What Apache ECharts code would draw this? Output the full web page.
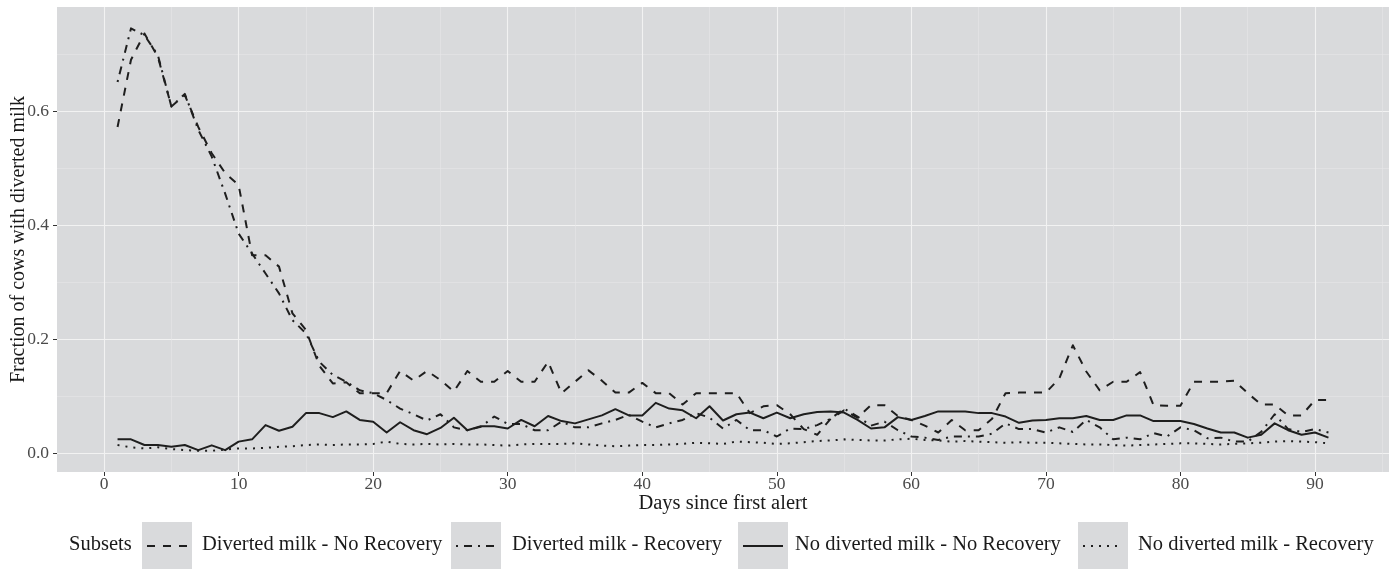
<!DOCTYPE html>
<html><head><meta charset="utf-8">
<script src="https://cdn.jsdelivr.net/npm/echarts@6/dist/echarts.min.js"></script>
<style>html,body{margin:0;padding:0;background:#fff}#c{width:1392px;height:569px}</style>
</head><body><div id="c"></div>
<script>
const days = [1,2,3,4,5,6,7,8,9,10,11,12,13,14,15,16,17,18,19,20,21,22,23,24,25,26,27,28,29,30,31,32,33,34,35,36,37,38,39,40,41,42,43,44,45,46,47,48,49,50,51,52,53,54,55,56,57,58,59,60,61,62,63,64,65,66,67,68,69,70,71,72,73,74,75,76,77,78,79,80,81,82,83,84,85,86,87,88,89,90,91];

const divertedNoRecovery = [0.572,0.690,0.736,0.695,0.608,0.628,0.572,0.526,0.491,0.470,0.347,0.347,0.327,0.245,0.216,0.153,0.122,0.124,0.105,0.105,0.105,0.144,0.127,0.144,0.128,0.108,0.144,0.125,0.125,0.144,0.125,0.125,0.160,0.105,0.125,0.145,0.127,0.106,0.106,0.123,0.105,0.105,0.085,0.105,0.105,0.105,0.105,0.070,0.082,0.084,0.068,0.042,0.032,0.060,0.075,0.062,0.084,0.084,0.065,0.058,0.048,0.036,0.058,0.040,0.040,0.060,0.105,0.106,0.106,0.106,0.131,0.189,0.143,0.110,0.125,0.125,0.142,0.084,0.083,0.083,0.125,0.125,0.125,0.127,0.105,0.085,0.085,0.066,0.066,0.093,0.093];

const divertedRecovery = [0.651,0.745,0.733,0.698,0.608,0.630,0.567,0.520,0.455,0.385,0.350,0.315,0.280,0.233,0.210,0.160,0.137,0.125,0.110,0.105,0.093,0.078,0.068,0.057,0.068,0.045,0.040,0.046,0.064,0.051,0.051,0.040,0.040,0.055,0.045,0.045,0.052,0.058,0.067,0.055,0.045,0.052,0.058,0.070,0.062,0.043,0.058,0.040,0.040,0.029,0.043,0.042,0.049,0.060,0.078,0.064,0.048,0.055,0.040,0.029,0.027,0.023,0.029,0.029,0.029,0.034,0.052,0.042,0.042,0.036,0.045,0.037,0.058,0.045,0.024,0.027,0.024,0.035,0.029,0.045,0.040,0.026,0.027,0.020,0.020,0.037,0.068,0.042,0.037,0.042,0.036];

const noDivertedNoRecovery = [0.024,0.024,0.014,0.014,0.011,0.014,0.005,0.0135,0.005,0.020,0.024,0.049,0.039,0.046,0.070,0.070,0.063,0.073,0.058,0.055,0.036,0.054,0.040,0.033,0.044,0.062,0.040,0.047,0.047,0.043,0.058,0.047,0.065,0.056,0.052,0.059,0.066,0.077,0.066,0.066,0.088,0.078,0.075,0.061,0.082,0.057,0.068,0.071,0.061,0.071,0.061,0.068,0.072,0.073,0.071,0.058,0.043,0.045,0.063,0.058,0.065,0.073,0.073,0.073,0.070,0.070,0.064,0.053,0.057,0.058,0.061,0.061,0.065,0.058,0.058,0.066,0.066,0.056,0.056,0.056,0.051,0.043,0.036,0.036,0.027,0.032,0.052,0.040,0.032,0.036,0.027];

const noDivertedRecovery = [0.014,0.010,0.008,0.010,0.007,0.005,0.004,0.004,0.006,0.008,0.008,0.009,0.011,0.012,0.014,0.015,0.014,0.015,0.015,0.016,0.020,0.016,0.015,0.016,0.015,0.016,0.015,0.015,0.014,0.013,0.015,0.016,0.016,0.016,0.017,0.015,0.013,0.012,0.013,0.014,0.014,0.015,0.016,0.018,0.017,0.016,0.020,0.019,0.018,0.016,0.017,0.019,0.021,0.022,0.024,0.023,0.022,0.022,0.024,0.025,0.023,0.022,0.020,0.021,0.020,0.019,0.018,0.019,0.018,0.018,0.017,0.016,0.015,0.015,0.014,0.013,0.014,0.015,0.016,0.017,0.017,0.016,0.015,0.016,0.017,0.018,0.020,0.021,0.020,0.019,0.017];

const seriesNames = ['Diverted milk - No Recovery','Diverted milk - Recovery','No diverted milk - No Recovery','No diverted milk - Recovery'];
const xTicks = [0,10,20,30,40,50,60,70,80,90];
const xMinorTicks = [5,15,25,35,45,55,65,75,85,95];
const yTicks = [0,0.2,0.4,0.6];
const yMinorTicks = [0.1,0.3,0.5,0.7];
const xTitle = 'Days since first alert';
const yTitle = 'Fraction of cows with diverted milk';
const legendTitle = 'Subsets';

const FONT = "'Liberation Serif','Times New Roman','DejaVu Serif',serif";
const LINE = '#1e1e1e';
const dashes = [[8,8],[2,6,8,6],null,[2,6]];
const allValues = [divertedNoRecovery, divertedRecovery, noDivertedNoRecovery, noDivertedRecovery];

const chart = echarts.init(document.getElementById('c'), null, {renderer:'canvas'});

const series = allValues.map((vals, i) => ({
  name: seriesNames[i],
  type: 'line',
  xAxisIndex: 0, yAxisIndex: 0,
  data: days.map((d, k) => [d, vals[k]]),
  showSymbol: false, symbol: 'none',
  animation: false,
  z: 5,
  lineStyle: { color: LINE, width: 2, type: dashes[i] ? dashes[i] : 'solid', cap: 'butt', join: 'round' }
}));

// Legend drawn as graphic (ggplot-style keys with grey boxes)
const legendY = 546;
const boxX = [142, 451, 738, 1078];
const textX = [202, 512, 795, 1138];
const graphics = [];
graphics.push({ type:'text', left: 69, top: legendY - 12, style:{ text: legendTitle, font: "20.5px " + FONT, fill:'#1a1a1a' } });
for (let i = 0; i < 4; i++) {
  graphics.push({ type:'rect', shape:{ x: boxX[i], y: legendY - 24, width: 50, height: 48 }, style:{ fill:'#d9dadc' } });
  graphics.push({ type:'line', shape:{ x1: boxX[i] + 5, y1: legendY, x2: boxX[i] + 45, y2: legendY },
    style:{ stroke: LINE, lineWidth: 2, lineDash: dashes[i] || null } });
  graphics.push({ type:'text', left: textX[i], top: legendY - 12, style:{ text: seriesNames[i], font: "20.5px " + FONT, fill:'#1a1a1a' } });
}

const axisText = { fontFamily: FONT, fontSize: 17.5, color: '#4a4a4a' };

chart.setOption({
  backgroundColor: '#ffffff',
  animation: false,
  grid: { left: 57, right: 3, top: 7, bottom: 97, show: true, backgroundColor: '#d9dadc', borderWidth: 0,
          containLabel: false, outerBoundsMode: 'none' },
  xAxis: [
    { type:'value', min: -3.5, max: 95.5, gridIndex: 0,
      axisLine:{ show:false, onZero:false },
      axisTick:{ show:true, length:4, customValues: xTicks, lineStyle:{ color:'#333', width:1 } },
      axisLabel:{ show:true, customValues: xTicks, margin: 3, ...axisText },
      splitLine:{ show:true, lineStyle:{ color:'#f2f2f2', width:1.1 } },
      name: xTitle, nameLocation:'middle', nameGap: 21, nameMoveOverlap: false,
      nameTextStyle:{ fontFamily: FONT, fontSize: 20.5, color:'#1a1a1a' } },
    { type:'value', min: -3.5, max: 95.5, gridIndex: 0, position:'bottom',
      axisLine:{ show:false, onZero:false },
      axisTick:{ show:false, customValues: xMinorTicks },
      axisLabel:{ show:false, customValues: xMinorTicks },
      splitLine:{ show:true, lineStyle:{ color:'#e6e6e8', width:0.6 } } }
  ],
  yAxis: [
    { type:'value', min: -0.0333, max: 0.7825, gridIndex: 0,
      axisLine:{ show:false, onZero:false },
      axisTick:{ show:true, length:4, customValues: yTicks, lineStyle:{ color:'#333', width:1 } },
      axisLabel:{ show:true, customValues: yTicks, margin: 8, formatter: v => v.toFixed(1), ...axisText },
      splitLine:{ show:true, lineStyle:{ color:'#f2f2f2', width:1.1 } },
      name: yTitle, nameLocation:'middle', nameGap: 28, nameRotate: 90, nameMoveOverlap: false,
      nameTextStyle:{ fontFamily: FONT, fontSize: 20, color:'#1a1a1a' } },
    { type:'value', min: -0.0333, max: 0.7825, gridIndex: 0, position:'left',
      axisLine:{ show:false, onZero:false },
      axisTick:{ show:false, customValues: yMinorTicks },
      axisLabel:{ show:false, customValues: yMinorTicks },
      splitLine:{ show:true, lineStyle:{ color:'#e6e6e8', width:0.6 } } }
  ],
  series: series,
  graphic: graphics
});
</script></body></html>
